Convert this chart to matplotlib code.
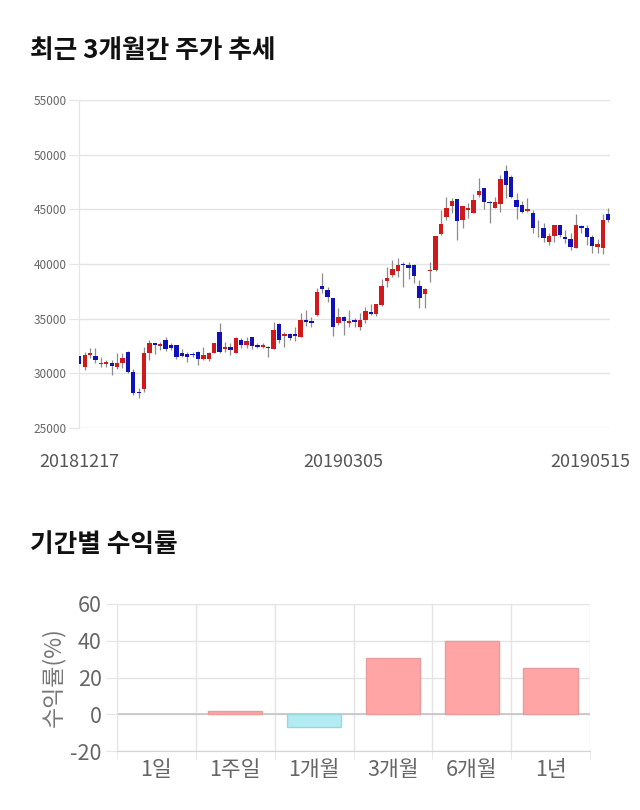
import matplotlib
matplotlib.use("Agg")
import matplotlib.pyplot as plt
import matplotlib.transforms as mtransforms
import numpy as np

plt.rcParams['font.family'] = ['Noto Sans CJK KR', 'DejaVu Sans']

# ---------------- data ----------------
opens = [31550, 30550, 31650, 31590, 30850, 30850, 30980, 30550, 30920, 31980,
         30120, 28290, 28540, 31890, 32740, 32500, 33050, 32560, 32590, 31830,
         31770, 31740, 31980, 31280, 31340, 31890, 33810, 32260, 32440, 31890,
         33050, 32590, 33290, 32590, 32410, 32440, 32260, 34510, 33420, 33600,
         33600, 33290, 34880, 34760, 35340, 38020, 37620, 36860, 34640, 35180,
         34640, 34880, 34270, 34880, 35580, 35400, 36250, 38480, 39000, 39390,
         40000, 39910, 39910, 38020, 37290, 39360, 39450, 42750, 44330, 45280,
         45950, 44000, 44940, 44700, 46310, 46980, 45700, 45090, 45460, 48540,
         47990, 45850, 45400, 44850, 44630, 43320, 43260, 41980, 42560, 43560,
         42440, 42260, 41490, 43470, 43260, 42440, 41520, 41430, 44540]
highs = [31700, 31980, 32290, 32290, 31520, 31220, 31220, 31890, 31890, 32000,
         30430, 28630, 32440, 33050, 32770, 32900, 33290, 32740, 32620, 32200,
         31980, 31980, 32000, 32440, 31980, 32800, 34570, 32900, 32740, 33350,
         33200, 33350, 33350, 32740, 32740, 32530, 34730, 34570, 33810, 33720,
         34210, 35490, 35790, 35120, 37780, 39150, 37930, 36860, 35950, 35200,
         35800, 35030, 35550, 36100, 36310, 36320, 38600, 39760, 40370, 40520,
         40210, 40210, 40000, 38540, 37780, 40210, 42600, 44940, 46100, 46000,
         45960, 45350, 45610, 46400, 47840, 46990, 45760, 46160, 48140, 49060,
         48140, 46520, 45790, 46010, 44940, 44030, 43720, 42800, 43570, 43570,
         43110, 42800, 44540, 43570, 43570, 42650, 42250, 44540, 45090]
lows = [30800, 30300, 31370, 30980, 30610, 30550, 29850, 30370, 30460, 30000,
        28020, 27710, 28330, 31220, 31770, 32130, 32070, 32130, 31280, 31460,
        31070, 31460, 30760, 31220, 31160, 31830, 31830, 31980, 31680, 31830,
        32290, 32290, 32200, 32290, 32290, 31520, 32200, 32740, 32440, 33050,
        32990, 33290, 34330, 34270, 35240, 37320, 36560, 33420, 34420, 33510,
        34210, 34270, 33960, 34570, 35340, 35240, 36160, 37870, 38840, 38840,
        37870, 38600, 38230, 35950, 35950, 38390, 39390, 42650, 44030, 44630,
        42200, 43260, 44180, 44630, 46160, 45000, 43780, 45090, 44790, 46000,
        46000, 44080, 44700, 44790, 42870, 42500, 42040, 41740, 42040, 42500,
        41950, 41280, 41430, 42800, 41740, 41040, 40970, 40910, 43870]
closes = [30880, 31650, 31830, 31220, 30900, 31040, 30670, 30980, 31430, 30150,
          28230, 28230, 31890, 32740, 32590, 32650, 32200, 32290, 31520, 31590,
          31520, 31680, 31280, 31650, 31830, 32740, 31980, 32380, 32130, 33200,
          32590, 32960, 32530, 32380, 32560, 32350, 33960, 33050, 33600, 33200,
          33420, 34880, 34730, 34640, 37470, 37720, 36950, 34270, 35180, 34760,
          34820, 34700, 34880, 35730, 35400, 36310, 38020, 38720, 39540, 39910,
          39940, 39610, 38900, 36860, 37720, 39420, 42590, 43660, 45090, 45770,
          43960, 45340, 45160, 45860, 46680, 45700, 45610, 45700, 47750, 47230,
          46160, 45180, 44790, 45030, 43260, 43260, 42350, 42560, 43560, 42650,
          42290, 41590, 43530, 43260, 42440, 41680, 41830, 44020, 44020]
date_labels = ['20181217', '20190305', '20190515']
date_label_idx = [0, 49, 98]
price_ticks = [25000, 30000, 35000, 40000, 45000, 50000, 55000]

periods = ['1일', '1주일', '1개월', '3개월', '6개월', '1년']
returns = [0.0, 1.5, -6.9, 30.4, 39.8, 25.3]
return_ticks = [-20, 0, 20, 40, 60]

# ---------------- figure ----------------
W, H = 640, 810
fig = plt.figure(figsize=(W / 100, H / 100), dpi=100)
fig.patch.set_facecolor('white')

def px_axes(l, t, r, b):
    return fig.add_axes([l / W, 1 - b / H, (r - l) / W, (b - t) / H])

grid_c = '#e4e4e4'

# titles
fig.text(30 / W, 1 - 51 / H, '최근 3개월간 주가 추세', fontsize=18.5, fontweight='bold',
         color='#111111', va='center', ha='left')
fig.text(30 / W, 1 - 544 / H, '기간별 수익률', fontsize=18.5, fontweight='bold',
         color='#111111', va='center', ha='left')

# ---------------- candlestick chart ----------------
ax = px_axes(79, 100, 610, 428)
x = np.arange(len(opens))
o = np.array(opens); h = np.array(highs); l = np.array(lows); c = np.array(closes)
up = c >= o
ax.vlines(x, l, h, color='#8c8c8c', linewidth=0.9, zorder=2)
body_bottom = np.minimum(o, c)
body_h = np.maximum(np.abs(c - o), 60)
colors = np.where(up, '#d0191b', '#0f12b9')
ax.bar(x, body_h, bottom=body_bottom, width=0.8, color=colors, linewidth=0, zorder=3)

ax.set_xlim(-0.05, 98.3)
ax.set_ylim(25000, 55000)
ax.set_yticks(price_ticks)
ax.set_yticklabels([str(t) for t in price_ticks], fontsize=8.5, color='#666666')
ax.yaxis.grid(True, color=grid_c, linewidth=1)
ax.set_axisbelow(True)
ax.tick_params(axis='y', length=7, color=grid_c, pad=2)
for s in ['top', 'right', 'bottom']:
    ax.spines[s].set_visible(False)
ax.spines['left'].set_color(grid_c)

ax.set_xticks(date_label_idx[:2])
ax.set_xticklabels(date_labels[:2], fontsize=13, color='#555555')
ax.tick_params(axis='x', length=0, pad=18)
trans = mtransforms.blended_transform_factory(ax.transData, ax.transAxes)
ax.annotate(date_labels[2], xy=(date_label_idx[2], 0), xycoords=trans,
            xytext=(22, -25), textcoords='offset pixels', ha='right', va='top',
            fontsize=13, color='#555555', annotation_clip=False)

# ---------------- returns chart ----------------
ax2 = px_axes(117, 604, 590, 751)
pos = np.arange(len(periods)) + 0.5
vals = np.array(returns)
fills = ['#ffa5a5' if v >= 0 else '#b3ebf3' for v in vals]
edges = ['#e89c9c' if v >= 0 else '#9ad6e0' for v in vals]
lws = [1 if v != 0 else 0 for v in vals]
ax2.bar(pos, vals, width=0.69, color=fills, edgecolor=edges, linewidth=lws, zorder=3)
ax2.set_xlim(0, len(periods))
ax2.set_ylim(-20, 60)
ax2.set_yticks(return_ticks)
ax2.set_yticklabels([str(t) for t in return_ticks], fontsize=15.5, color='#666666')
ax2.set_xticks(pos)
ax2.set_xticklabels(periods, fontsize=15.5, color='#666666')
ax2.set_xticks(np.arange(len(periods) + 1), minor=True)
ax2.tick_params(axis='x', which='major', length=0, pad=6)
ax2.tick_params(axis='x', which='minor', length=6, color=grid_c)
ax2.tick_params(axis='y', length=8, color=grid_c, pad=3)
ax2.yaxis.grid(True, color=grid_c, linewidth=1)
ax2.xaxis.grid(True, which='minor', color=grid_c, linewidth=1)
ax2.set_axisbelow(True)
ax2.axhline(0, color='#c4c4c4', linewidth=1.2, zorder=2)
for s in ['top', 'right']:
    ax2.spines[s].set_visible(False)
ax2.spines['left'].set_color(grid_c)
ax2.spines['bottom'].set_color('#d4d4d4')
ax2.set_ylabel('수익률(%)', fontsize=16.5, color='#777777', labelpad=4)

fig.savefig('out.png', dpi=100, facecolor='white')
